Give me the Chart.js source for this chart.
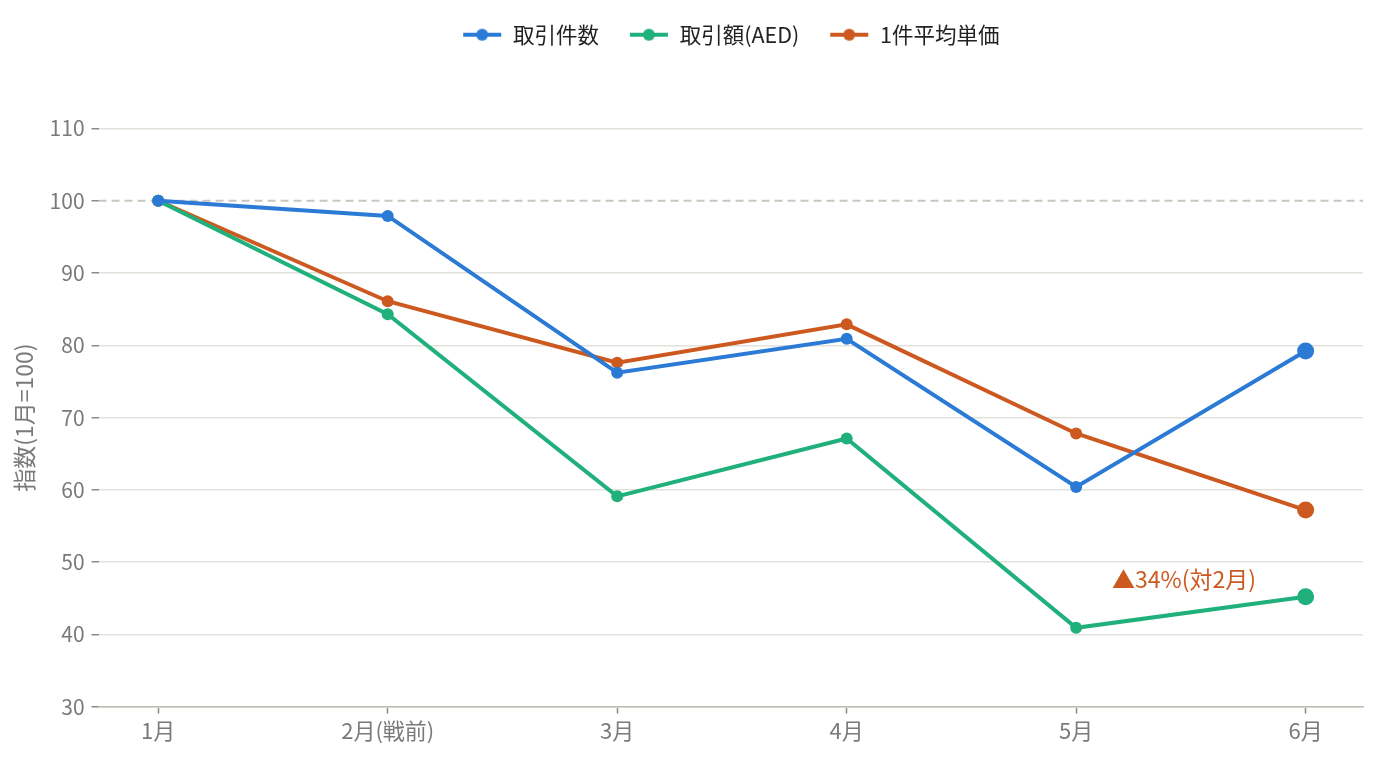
<!DOCTYPE html>
<html lang="ja">
<head>
<meta charset="utf-8">
<script src="https://cdn.jsdelivr.net/npm/chart.js@4/dist/chart.umd.min.js"></script>
<style>
  html, body { margin: 0; padding: 0; background: #fff; }
  #wrap { width: 1378px; height: 761px; position: relative; }
</style>
</head>
<body>
<div id="wrap"><canvas id="chart"></canvas></div>
<script>
const months = ['1月', '2月(戦前)', '3月', '4月', '5月', '6月'];
const txCount = [100, 97.9, 76.2, 80.9, 60.4, 79.2];
const txValue = [100, 84.3, 59.1, 67.1, 40.9, 45.2];
const avgPrice = [100, 86.1, 77.6, 82.9, 67.8, 57.2];
const yTicks = [30, 40, 50, 60, 70, 80, 90, 100, 110];
const baseLine = 100;
const note = { text: '▲34%(対2月)', x: 4.47, y: 47.6 };

const FONT = '"Noto Sans CJK JP", "Noto Sans", sans-serif';
const BLUE = '#2b7bd6';
const GREEN = '#1fb07c';
const ORANGE = '#cc5a20';
const GREY = '#7a7a7a';

function toPoints(arr) {
  return arr.map((v, i) => ({ x: i, y: v }));
}

function legendIcon(color) {
  const c = document.createElement('canvas');
  c.width = 40; c.height = 14;
  const g = c.getContext('2d');
  g.strokeStyle = color;
  g.lineWidth = 4;
  g.beginPath(); g.moveTo(1, 7); g.lineTo(39, 7); g.stroke();
  g.fillStyle = color;
  g.beginPath(); g.arc(20, 7, 6, 0, Math.PI * 2); g.fill();
  return c;
}

function series(label, data, color) {
  const n = data.length;
  return {
    label,
    data: toPoints(data),
    borderColor: color,
    backgroundColor: color,
    borderWidth: 4,
    pointRadius: (ctx) => (ctx.dataIndex === n - 1 ? 8.5 : 6),
    pointHoverRadius: (ctx) => (ctx.dataIndex === n - 1 ? 8.5 : 6),
    pointBorderWidth: 0,
    tension: 0,
    icon: legendIcon(color),
  };
}

// extra room under the legend, and centre it over the plot area
const legendGap = {
  id: 'legendGap',
  beforeInit(chart) {
    const fit = chart.legend.fit;
    chart.legend.fit = function () {
      fit.bind(chart.legend)();
      this.height += 67;
    };
  },
  afterLayout(chart) {
    const a = chart.chartArea;
    chart.legend.left = a.left;
    chart.legend.right = a.right;
    chart.legend.top -= 6;
  },
};

const extras = {
  id: 'extras',
  beforeDatasetsDraw(chart) {
    const { ctx, chartArea, scales } = chart;
    const y = scales.y.getPixelForValue(baseLine);
    ctx.save();
    ctx.strokeStyle = '#c9c7bd';
    ctx.lineWidth = 2;
    ctx.setLineDash([8, 5]);
    ctx.beginPath();
    ctx.moveTo(chartArea.left, y);
    ctx.lineTo(chartArea.right, y);
    ctx.stroke();
    ctx.restore();
  },
  afterDatasetsDraw(chart) {
    const { ctx, scales } = chart;
    ctx.save();
    ctx.fillStyle = ORANGE;
    ctx.font = '23px ' + FONT;
    ctx.textAlign = 'center';
    ctx.textBaseline = 'middle';
    ctx.fillText(note.text, scales.x.getPixelForValue(note.x), scales.y.getPixelForValue(note.y));
    ctx.restore();
  },
};

new Chart(document.getElementById('chart'), {
  type: 'line',
  data: {
    datasets: [
      series('取引件数', txCount, BLUE),
      series('取引額(AED)', txValue, GREEN),
      series('1件平均単価', avgPrice, ORANGE),
    ],
  },
  options: {
    responsive: true,
    maintainAspectRatio: false,
    animation: false,
    layout: { padding: { top: 0, right: 15, bottom: 13, left: 6 } },
    plugins: {
      tooltip: { enabled: false },
      legend: {
        position: 'top',
        labels: {
          usePointStyle: true,
          pointStyleWidth: 40,
          padding: 30,
          color: '#222',
          font: { family: FONT, size: 21.5 },
          generateLabels(chart) {
            return chart.data.datasets.map((ds, i) => ({
              text: ds.label,
              pointStyle: ds.icon,
              fillStyle: ds.borderColor,
              strokeStyle: ds.borderColor,
              lineWidth: 0,
              hidden: false,
              datasetIndex: i,
              fontColor: '#222',
            }));
          },
        },
      },
    },
    scales: {
      x: {
        type: 'linear',
        min: -0.26,
        max: 5.25,
        afterBuildTicks(scale) {
          scale.ticks = months.map((_, i) => ({ value: i }));
        },
        ticks: {
          callback: (v) => months[v],
          color: GREY,
          font: { family: FONT, size: 22 },
          padding: 4,
          maxRotation: 0,
        },
        grid: {
          drawOnChartArea: false,
          drawTicks: true,
          tickLength: 7,
          tickColor: '#8a8a8a',
          tickWidth: 1.5,
        },
        border: { display: true, color: '#bdbcb3', width: 1.5 },
      },
      y: {
        min: 30,
        max: 110,
        afterBuildTicks(scale) {
          scale.ticks = yTicks.map((v) => ({ value: v }));
        },
        ticks: {
          color: GREY,
          font: { family: FONT, size: 21 },
          padding: 7,
        },
        title: {
          display: true,
          text: '指数(1月=100)',
          color: GREY,
          font: { family: FONT, size: 23 },
          padding: { bottom: 5 },
        },
        grid: {
          color: (ctx) => (ctx.tick && ctx.tick.value === baseLine ? 'rgba(0,0,0,0)' : '#e2e1db'),
          lineWidth: 1.5,
          drawTicks: true,
          tickLength: 7,
          tickColor: '#8a8a8a',
          tickWidth: 1.5,
        },
        border: { display: false },
      },
    },
  },
  plugins: [legendGap, extras],
});
</script>
</body>
</html>
